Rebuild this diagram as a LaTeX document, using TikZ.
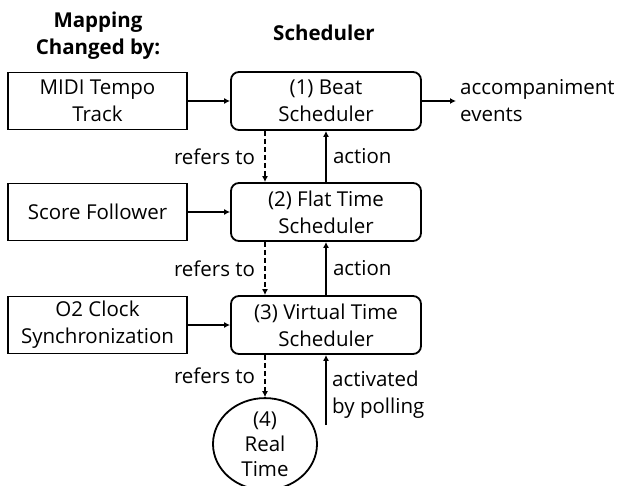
\documentclass[tikz,border=0pt]{standalone}
\usepackage{fontspec}
\setmainfont{Open Sans}
\usetikzlibrary{arrows.meta,shapes.geometric}
\begin{document}
\begin{tikzpicture}[x=1pt,y=-1pt,
  every node/.style={font=\fontsize{20.5}{27}\selectfont},
  src/.style={draw,line width=1.8pt,minimum width=179pt,minimum height=57pt,align=center,inner sep=0pt},
  sched/.style={draw,line width=1.8pt,rounded corners=8pt,minimum width=190pt,minimum height=58pt,align=center,inner sep=0pt},
  lbl/.style={inner sep=0pt,align=left},
  arr/.style={line width=2pt,-{Latex[length=6pt,width=6pt]}},
  darr/.style={arr,dash pattern=on 5pt off 3pt}]
\useasboundingbox (0,0) rectangle (620,486);
\node[font=\fontsize{20.5}{27}\bfseries\selectfont,align=center] (h1) at (98,36) {Mapping\\Changed by:};
\node[font=\fontsize{20.5}{27}\bfseries\selectfont] (h2) at (324,33) {Scheduler};
\node[src] (midi) at (97.5,101) {MIDI Tempo\\Track};
\node[src] (score) at (97.5,212) {Score Follower};
\node[src] (o2) at (97.5,325) {O2 Clock\\Synchronization};
\node[sched] (beat) at (326,101) {(1) Beat\\Scheduler};
\node[sched] (flat) at (326,212) {(2) Flat Time\\Scheduler};
\node[sched] (virt) at (326,325) {(3) Virtual Time\\Scheduler};
\node[draw,ellipse,line width=1.8pt,minimum width=104pt,minimum height=86pt,inner sep=0pt,align=center,font=\fontsize{20.5}{25}\selectfont] (real) at (265,444) {(4)\\Real\\Time};
\coordinate (acc) at (456,101);
\node[lbl,anchor=west] (acct) at (460,101) {accompaniment\\events};
\coordinate (poll) at (326,425);
\node[lbl,anchor=west] (pollt) at (332,395) {activated\\by polling};
\draw[arr] (midi.east) -- (beat.west);
\draw[arr] (score.east) -- (flat.west);
\draw[arr] (o2.east) -- (virt.west);
\draw[arr] (beat.east) -- (acc);
\draw[darr] (beat.south -| real.north) -- node[lbl,left=9pt] (r1) {refers to} (flat.north -| real.north);
\draw[darr] (flat.south -| real.north) -- node[lbl,left=9pt] (r2) {refers to} (virt.north -| real.north);
\draw[darr] (virt.south -| real.north) -- node[lbl,left=9pt] (r3) {refers to} (real.north);
\draw[arr] (flat.north) -- node[lbl,right=6pt] (a1) {action} (beat.south);
\draw[arr] (virt.north) -- node[lbl,right=6pt] (a2) {action} (flat.south);
\draw[arr] (poll) -- (virt.south);
\end{tikzpicture}
\end{document}
